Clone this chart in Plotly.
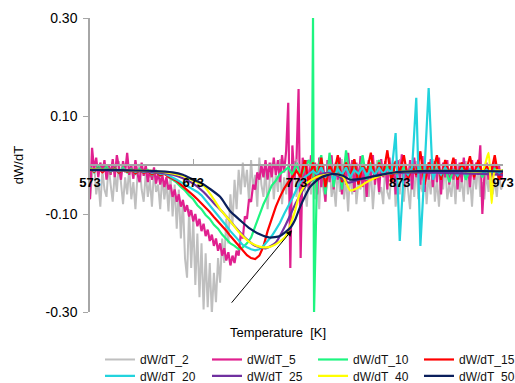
import plotly.graph_objects as go

# ---------------- data ----------------
# dense series sampled every 2 K from 573 to 973
T_DENSE = list(range(573, 974, 2))
# noisier series sampled every 4 K from 573 to 973
T_FINE = list(range(573, 974, 4))
# dW/dT_10 grid: 4 K steps with the single sharp spike near 789 K
T_10 = list(range(573, 786, 4)) + [788, 789, 790] + list(range(793, 974, 4))

DW_2 = [-0.070, -0.020, 0.005, -0.060, -0.030, -0.085, -0.010, -0.050, -0.065, 0.000,
        -0.040, -0.075, -0.015, -0.055, 0.008, -0.045, -0.080, -0.025, -0.060, -0.005,
        -0.070, -0.035, -0.090, -0.020, 0.002, -0.050, -0.075, -0.015, -0.065, -0.030,
        -0.085, -0.010, -0.055, -0.040, -0.090, -0.020, -0.070, -0.035, -0.095,
        -0.020, -0.105, -0.040, -0.130, -0.050, -0.150, -0.070, -0.190, -0.230, -0.090,
        -0.210, -0.110, -0.245, -0.140, -0.270, -0.160, -0.295, -0.180, -0.290, -0.200,
        -0.305, -0.220,
        -0.280, -0.190, -0.240, -0.150, -0.200, -0.110, -0.160, -0.060, -0.120, -0.030,
        -0.090, -0.010, -0.060, 0.005, -0.045,
        -0.010, -0.075, 0.010, -0.050, -0.020, -0.085, 0.015, -0.040, -0.065, -0.005,
        -0.090, -0.030, 0.005, -0.070, -0.015, -0.055, 0.012, -0.080, -0.025, -0.060,
        0.000, -0.095, -0.035, 0.008, -0.065, -0.020, -0.075, 0.010, -0.045, -0.085,
        -0.010, -0.060, 0.005, -0.070, -0.030, -0.090, 0.000, -0.050, -0.075, -0.015,
        0.010, -0.065, -0.040, -0.085, -0.005, -0.055, 0.012, -0.070, -0.025, -0.095,
        -0.010, -0.060, 0.005, -0.080, -0.035, -0.050, 0.008, -0.075, -0.020, -0.065,
        -0.005, -0.090, -0.030, 0.010, -0.060, -0.045, -0.080, 0.000, -0.055, -0.070,
        -0.015, 0.005, -0.085, -0.040, -0.060, 0.010, -0.075, -0.025, -0.050, -0.090,
        -0.005, -0.065, 0.008, -0.070, -0.035, -0.055, 0.000, -0.080, -0.020, -0.060,
        0.012, -0.075, -0.030, -0.085, -0.010, -0.050, 0.005, -0.070, -0.040, -0.065,
        -0.015, -0.080, 0.000, -0.055, -0.030, -0.075, 0.008, -0.060, -0.025, -0.085,
        -0.010, -0.050, 0.005, -0.065, -0.035, -0.070, -0.015, -0.055, 0.000, -0.060,
        -0.030, -0.065, -0.010, -0.050, -0.040]

DW_5 = [-0.070, 0.035, -0.010, 0.015, -0.025, 0.005, -0.015, 0.010, -0.030, 0.000,
        -0.020, 0.012, -0.025, 0.020, -0.005, -0.030, 0.008, -0.015, 0.025, -0.020,
        0.000, -0.028, 0.010, -0.018, -0.035, 0.005, -0.022, 0.000, -0.035, -0.010,
        -0.030, -0.005, -0.038, -0.015, -0.040, -0.020, -0.045, -0.025, -0.050,
        -0.040, -0.065, -0.050, -0.075, -0.060, -0.085, -0.072, -0.095, -0.082, -0.105,
        -0.092, -0.115, -0.100, -0.125, -0.110, -0.135, -0.120, -0.145, -0.132, -0.155,
        -0.142, -0.165, -0.150, -0.175, -0.160, -0.185, -0.170, -0.195, -0.178, -0.205,
        -0.185, -0.200,
        -0.175, -0.185, -0.140, -0.150, -0.105, -0.110, -0.070, -0.075, -0.040, -0.050,
        -0.015, -0.030, 0.000, -0.025, 0.010,
        -0.030, 0.005, -0.025, 0.015, -0.020, 0.010, -0.035, 0.020, -0.015, 0.030,
        0.127, -0.210, 0.040, -0.030, 0.010, 0.155, -0.190, 0.015, -0.040, 0.010,
        -0.050, 0.020, -0.030, 0.005, -0.060, 0.015, -0.045, 0.000, -0.075, 0.010,
        -0.035, 0.020, -0.050, 0.005, -0.030, 0.015, -0.060, 0.000, -0.040, 0.025,
        -0.025, 0.010, -0.055, 0.005, -0.035, 0.018, -0.045, -0.005, -0.065, 0.010,
        -0.030, 0.020, -0.040, 0.000, -0.055, 0.012, -0.025, 0.008, -0.050, 0.015,
        -0.035, 0.005, -0.060, 0.010, -0.030, 0.022, -0.045, 0.000, -0.035, 0.010,
        -0.050, 0.015, -0.025, 0.005, -0.040, 0.018, -0.055, 0.000, -0.030, 0.012,
        -0.045, 0.008, -0.035, 0.015, -0.060, 0.005, -0.025, 0.010, -0.040, 0.000,
        -0.030, 0.012, -0.050, 0.005, -0.035, 0.015, -0.025, 0.000, -0.045, 0.010,
        -0.030, 0.005, -0.020, 0.040, -0.100,
        -0.020, 0.005, -0.030, 0.000, -0.025, 0.008, -0.020, 0.000, -0.030, -0.015]

DW_10 = [-0.005, -0.015, -0.002, -0.012, -0.004, -0.014, -0.006, -0.016, -0.005, -0.015,
         -0.008, -0.018, -0.008, -0.016, -0.010, -0.020, -0.012, -0.022, -0.015, -0.025,
         -0.030, -0.036, -0.045, -0.052, -0.062, -0.070, -0.082, -0.090, -0.102, -0.110,
         -0.122, -0.130, -0.142, -0.150, -0.160, -0.165, -0.172, -0.168, -0.160, -0.148,
         -0.125, -0.105, -0.080, -0.062, -0.042, -0.032, -0.018, -0.012, -0.005, -0.020,
         0.005, -0.025, -0.008, 0.010,
         -0.010, 0.300, -0.300,
         -0.010, 0.020, -0.060, 0.025, -0.045,
         0.015, -0.050, 0.030, -0.030, 0.010, -0.040, 0.020, -0.030, 0.005, -0.025,
         0.010, -0.020, 0.000, -0.025, 0.005, -0.015, -0.005, -0.020, 0.000, -0.015,
         -0.005, -0.025, 0.000, -0.020, 0.008, -0.030, -0.005, -0.035, -0.010, -0.025,
         0.000, -0.030, -0.010, -0.020, -0.005, -0.025, -0.010, -0.020, -0.008, -0.018,
         -0.010]

DW_15 = [-0.008, -0.014, -0.006, -0.015, -0.008, -0.013, -0.007, -0.016, -0.009, -0.014,
         -0.010, -0.017, -0.011, -0.016, -0.013, -0.019, -0.015, -0.021, -0.018, -0.024,
         -0.028, -0.033, -0.040, -0.047, -0.055, -0.062, -0.070, -0.078, -0.088, -0.096,
         -0.106, -0.115, -0.125, -0.134, -0.145, -0.155, -0.165, -0.174, -0.184, -0.190,
         -0.192, -0.185, -0.166, -0.135, -0.110, -0.085, -0.065, -0.048, -0.035, -0.025,
         -0.012, -0.025, 0.010, -0.040, 0.005, -0.030, 0.015, -0.045, 0.000, -0.020,
         0.020, -0.035, 0.005, -0.025, 0.012, -0.040, 0.000, -0.015, 0.025, -0.030,
         0.005, -0.020, 0.030, -0.035, 0.008, -0.015, 0.020, -0.030, 0.000, -0.020,
         0.028, -0.040, 0.005, -0.015, 0.020, -0.030, 0.010, -0.020, 0.015, -0.030,
         0.005, -0.015, 0.018, -0.025, 0.010, -0.020, 0.000, -0.020, 0.020, -0.030,
         -0.010]

DW_20 = [-0.008, -0.012, -0.007, -0.011, -0.008, -0.012, -0.009, -0.013, -0.009, -0.012,
         -0.010, -0.014, -0.011, -0.014, -0.012, -0.016, -0.014, -0.018, -0.017, -0.021,
         -0.025, -0.030, -0.035, -0.040, -0.045, -0.050, -0.055, -0.062, -0.072, -0.082,
         -0.092, -0.103, -0.113, -0.124, -0.135, -0.145, -0.155, -0.163, -0.168, -0.172,
         -0.174, -0.172, -0.165, -0.155, -0.145, -0.132, -0.118, -0.100, -0.085, -0.068,
         -0.050, -0.035, -0.025, -0.018, -0.012, -0.020, -0.005, -0.025, -0.010, -0.030,
         -0.008, -0.020, -0.005, -0.025, -0.010, -0.018, -0.005, -0.022, -0.008, -0.020,
         -0.006, -0.018, -0.008, -0.015, 0.065, -0.155, -0.010, -0.020, -0.005, 0.137,
         -0.165, -0.010, 0.157, -0.030, -0.008, -0.020, -0.005, -0.018, -0.010, -0.022,
         -0.008, -0.020, -0.010, -0.016, -0.008, -0.018, -0.010, -0.015, -0.012, -0.016,
         -0.012]

# smoother series
T_25 = [573, 593, 613, 633, 653, 663, 673, 683, 693, 703, 713, 723, 733, 743, 753, 763,
        773, 783, 793, 803, 813, 823, 833, 843, 853, 873, 893, 913, 933, 953, 973]
DW_25 = [-0.010, -0.011, -0.012, -0.014, -0.020, -0.027, -0.038, -0.055, -0.078, -0.100,
         -0.125, -0.148, -0.165, -0.170, -0.158, -0.120, -0.075, -0.040, -0.022, -0.016,
         -0.022, -0.036, -0.030, -0.025, -0.020, -0.016, -0.015, -0.016, -0.017, -0.018,
         -0.020]

T_40 = [573, 593, 613, 633, 653, 663, 673, 683, 691, 699, 709, 718, 728, 738, 745, 752,
        762, 771, 776, 783, 793, 802, 810, 818, 825, 832, 841, 857, 873, 893, 913, 933,
        953, 959, 962, 965, 973]
DW_40 = [-0.009, -0.010, -0.011, -0.012, -0.017, -0.022, -0.032, -0.042, -0.064, -0.090,
         -0.115, -0.139, -0.158, -0.167, -0.168, -0.163, -0.147, -0.098, -0.060, -0.037,
         -0.024, -0.020, -0.018, -0.024, -0.052, -0.047, -0.035, -0.020, -0.014, -0.012,
         -0.012, -0.012, -0.012, 0.025, -0.078, -0.012, -0.012]

T_50 = [573, 593, 613, 633, 653, 663, 673, 680, 690, 699, 709, 718, 728, 738, 747, 757,
        767, 772, 776, 781, 786, 796, 808, 818, 825, 832, 841, 857, 873, 900, 930, 973]
DW_50 = [-0.010, -0.010, -0.011, -0.012, -0.015, -0.020, -0.030, -0.036, -0.050, -0.065,
         -0.095, -0.112, -0.130, -0.142, -0.148, -0.145, -0.128, -0.110, -0.088, -0.065,
         -0.045, -0.026, -0.018, -0.022, -0.030, -0.029, -0.026, -0.019, -0.014, -0.012,
         -0.012, -0.013]

SERIES_NAMES = ["dW/dT_2", "dW/dT_5", "dW/dT_10", "dW/dT_15",
                "dW/dT_20", "dW/dT_25", "dW/dT_40", "dW/dT_50"]

X_TICKS = [573, 673, 773, 873, 973]
Y_TICKS = [0.30, 0.10, -0.10, -0.30]

# ---------------- styling ----------------
COLORS = ["#BFBFBF", "#E0208F", "#1EF580", "#FF0000",
          "#22D3DD", "#7030A0", "#FFFF00", "#0A1F5C"]
WIDTHS = [2.0, 2.2, 2.2, 2.2, 2.2, 2.2, 2.2, 2.2]

xs = [T_DENSE, T_DENSE, T_10, T_FINE, T_FINE, T_25, T_40, T_50]
ys = [DW_2, DW_5, DW_10, DW_15, DW_20, DW_25, DW_40, DW_50]
shapes_ = ["linear", "linear", "linear", "linear", "linear", "spline", "spline", "spline"]

FONT = "Liberation Sans, Arial, sans-serif"

# one single-entry legend per cell of the 4 x 2 legend grid
LEG_X = [0.0242, 0.2833, 0.540, 0.7966]   # paper x of each column
LEG_Y = [-0.1122, -0.168]                 # paper y of each row

fig = go.Figure()
legends = {}
for i, (name, x, y, c, w, s) in enumerate(zip(SERIES_NAMES, xs, ys, COLORS, WIDTHS, shapes_)):
    key = "legend" if i == 0 else "legend%d" % (i + 1)
    fig.add_trace(go.Scatter(x=x[:len(y)], y=y, mode="lines", name=name, legend=key,
                             line=dict(color=c, width=w, shape=s, smoothing=0.6)))
    legends[key] = dict(orientation="h", x=LEG_X[i % 4], xanchor="left",
                        y=LEG_Y[i // 4], yanchor="top",
                        font=dict(size=12, family=FONT, color="#111"),
                        itemwidth=30, bgcolor="rgba(0,0,0,0)")

fig.update_layout(
    width=515, height=383,
    margin=dict(l=90, r=12, t=18, b=71, autoexpand=False),
    paper_bgcolor="white", plot_bgcolor="white",
    font=dict(family=FONT, color="black"),
    showlegend=True,
    xaxis=dict(range=[573, 973], anchor="free", position=0.5,
               tickvals=X_TICKS, ticktext=[str(t) for t in X_TICKS],
               ticks="inside", ticklen=5, tickcolor="#A6A6A6",
               showline=True, linecolor="#A6A6A6", linewidth=1.5,
               showgrid=False, zeroline=False,
               tickfont=dict(size=13, family=FONT, color="black", weight="bold"),
               ticklabelstandoff=6),
    yaxis=dict(range=[-0.3, 0.3], tickvals=Y_TICKS,
               ticktext=["%.2f" % v for v in Y_TICKS],
               ticks="outside", ticklen=5, tickcolor="#A6A6A6",
               showline=True, linecolor="#A6A6A6", linewidth=1.5,
               showgrid=False, zeroline=False,
               tickfont=dict(size=14, family=FONT, color="black"),
               ticklabelstandoff=3),
    annotations=[
        dict(text="Temperature\u00a0 [K]", xref="paper", yref="paper",
             x=0.455, y=-0.0714, xanchor="center", yanchor="middle",
             showarrow=False, font=dict(size=13, family=FONT, color="black")),
        dict(text="dW/dT", xref="paper", yref="paper",
             x=-0.174, y=0.5, xanchor="center", yanchor="middle",
             textangle=-90, showarrow=False,
             font=dict(size=13, family=FONT, color="black")),
        dict(text="", x=768.6, y=-0.133, ax=709, ay=-0.284, xref="x", yref="y",
             axref="x", ayref="y", showarrow=True, arrowhead=2, arrowsize=1.2,
             arrowwidth=1, arrowcolor="black"),
    ],
)
fig.update_layout(**legends)

fig.write_html("out.html",
               config={"displayModeBar": False},
               post_script="document.body.style.margin='0';"
                           "document.body.style.overflow='hidden';")
